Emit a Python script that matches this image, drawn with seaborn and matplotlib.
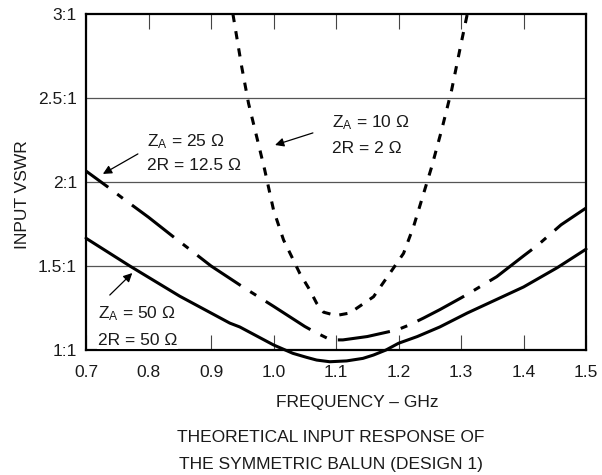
import matplotlib
matplotlib.use("Agg")
import matplotlib.pyplot as plt
import seaborn as sns
import pandas as pd

# frequency (GHz) / input VSWR
freq_50 = [0.70, 0.77, 0.85, 0.90, 0.93, 0.946, 1.00, 1.031, 1.053, 1.069, 1.09, 1.117,
           1.143, 1.16, 1.18, 1.20, 1.23, 1.266, 1.31, 1.40, 1.454, 1.50]
vswr_50 = [1.665, 1.50, 1.32, 1.22, 1.16, 1.137, 1.03, 0.98, 0.956, 0.94, 0.93, 0.935,
           0.95, 0.97, 1.00, 1.04, 1.08, 1.137, 1.22, 1.375, 1.49, 1.60]

freq_25 = [0.70, 0.735, 0.758, 0.80, 0.842, 0.862, 0.90, 0.951, 1.00, 1.05, 1.066, 1.086,
           1.10, 1.111, 1.15, 1.198, 1.218, 1.24, 1.266, 1.30, 1.314, 1.357, 1.40,
           1.423, 1.46, 1.50]
vswr_25 = [2.065, 1.97, 1.905, 1.79, 1.667, 1.61, 1.50, 1.375, 1.26, 1.14, 1.107, 1.07,
           1.06, 1.06, 1.08, 1.12, 1.15, 1.19, 1.24, 1.31, 1.34, 1.436, 1.56,
           1.625, 1.745, 1.845]

freq_10 = [0.935, 0.949, 0.96, 0.973, 0.986, 1.00, 1.016, 1.029, 1.042, 1.058, 1.069,
           1.08, 1.10, 1.122, 1.16, 1.186, 1.208, 1.224, 1.237, 1.253, 1.269, 1.285,
           1.298, 1.31]
vswr_10 = [3.0, 2.687, 2.468, 2.27, 2.07, 1.833, 1.655, 1.556, 1.456, 1.357, 1.278,
           1.225, 1.205, 1.22, 1.317, 1.456, 1.575, 1.734, 1.893, 2.09, 2.31, 2.548,
           2.786, 3.0]

x_ticks = [0.7, 0.8, 0.9, 1.0, 1.1, 1.2, 1.3, 1.4, 1.5]
x_labels = ["0.7", "0.8", "0.9", "1.0", "1.1", "1.2", "1.3", "1.4", "1.5"]
y_ticks = [1.0, 1.5, 2.0, 2.5, 3.0]
y_labels = ["1:1", "1.5:1", "2:1", "2.5:1", "3:1"]

sns.set_theme(style="white")
plt.rcParams["font.family"] = ["Liberation Sans", "DejaVu Sans"]
plt.rcParams["mathtext.fontset"] = "custom"
plt.rcParams["mathtext.rm"] = "Liberation Sans"
plt.rcParams["mathtext.it"] = "Liberation Sans:italic"
fs = 12.5
tc = "#1a1a1a"

fig = plt.figure(figsize=(6.02, 4.75), dpi=100)
ax = fig.add_axes([0.1429, 0.2632, 0.8306, 0.7074])

for y in [1.5, 2.0, 2.5]:
    ax.axhline(y, color="#555555", lw=0.9, zorder=1)

lw = 2.2
sns.lineplot(x=freq_50, y=vswr_50, ax=ax, color="black", lw=lw, sort=False,
             estimator=None, clip_on=False, zorder=3)
sns.lineplot(x=freq_25, y=vswr_25, ax=ax, color="black", lw=lw, sort=False,
             estimator=None, clip_on=False, zorder=3,
             linestyle=(8.3, (17.3, 3.7, 2.3, 3.7)))
sns.lineplot(x=freq_10, y=vswr_10, ax=ax, color="black", lw=lw, sort=False,
             estimator=None, clip_on=False, zorder=3,
             linestyle=(0, (2.7, 3.0)))
for ln in ax.lines:
    ln.set_dash_capstyle("butt")

ax.set_xlim(0.7, 1.5)
ax.set_ylim(1.0, 3.0)
ax.set_xticks(x_ticks)
ax.set_xticklabels(x_labels, fontsize=fs)
ax.set_yticks(y_ticks)
ax.set_yticklabels(y_labels, fontsize=fs)
ax.tick_params(axis="x", direction="in", length=11, width=0.8, color="#444444",
               top=True, bottom=True, pad=11, labelcolor=tc)
ax.tick_params(axis="y", length=0, pad=6.5, labelcolor=tc)
for s in ax.spines.values():
    s.set_linewidth(1.6)
    s.set_color("black")
    s.set_zorder(4)

ax.set_xlabel("FREQUENCY – GHz", fontsize=fs, color=tc)
ax.xaxis.set_label_coords(0.542, -0.135)
ax.set_ylabel("INPUT VSWR", fontsize=fs, color=tc)
ax.yaxis.set_label_coords(-0.112, 0.461)

# curve labels with arrows
arrow = dict(arrowstyle="-|>", color="black", lw=0.9, mutation_scale=13,
             shrinkA=0, shrinkB=0)
ax.text(0.7976, 2.214, r"$\mathregular{Z_A}$ = 25 Ω", fontsize=fs, va="baseline", color=tc)
ax.text(0.7976, 2.071, "2R = 12.5 Ω", fontsize=fs, va="baseline", color=tc)
ax.annotate("", xy=(0.727, 2.048), xytext=(0.783, 2.167), arrowprops=arrow)

ax.text(1.0936, 2.327, r"$\mathregular{Z_A}$ = 10 Ω", fontsize=fs, va="baseline", color=tc)
ax.text(1.0936, 2.173, "2R = 2 Ω", fontsize=fs, va="baseline", color=tc)
ax.annotate("", xy=(1.0024, 2.220), xytext=(1.063, 2.292), arrowprops=arrow)

ax.text(0.719, 1.19, r"$\mathregular{Z_A}$ = 50 Ω", fontsize=fs, va="baseline", color=tc)
ax.text(0.719, 1.03, "2R = 50 Ω", fontsize=fs, va="baseline", color=tc, zorder=5,
        bbox=dict(facecolor="white", edgecolor="none", pad=0.5))
ax.annotate("", xy=(0.774, 1.458), xytext=(0.738, 1.327), arrowprops=arrow)

fig.text(0.55, 1 - 438 / 475, "THEORETICAL INPUT RESPONSE OF", fontsize=fs,
         ha="center", va="center", color=tc)
fig.text(0.55, 1 - 464 / 475, "THE SYMMETRIC BALUN (DESIGN 1)", fontsize=fs,
         ha="center", va="center", color=tc)

fig.savefig("out.png", dpi=100)
